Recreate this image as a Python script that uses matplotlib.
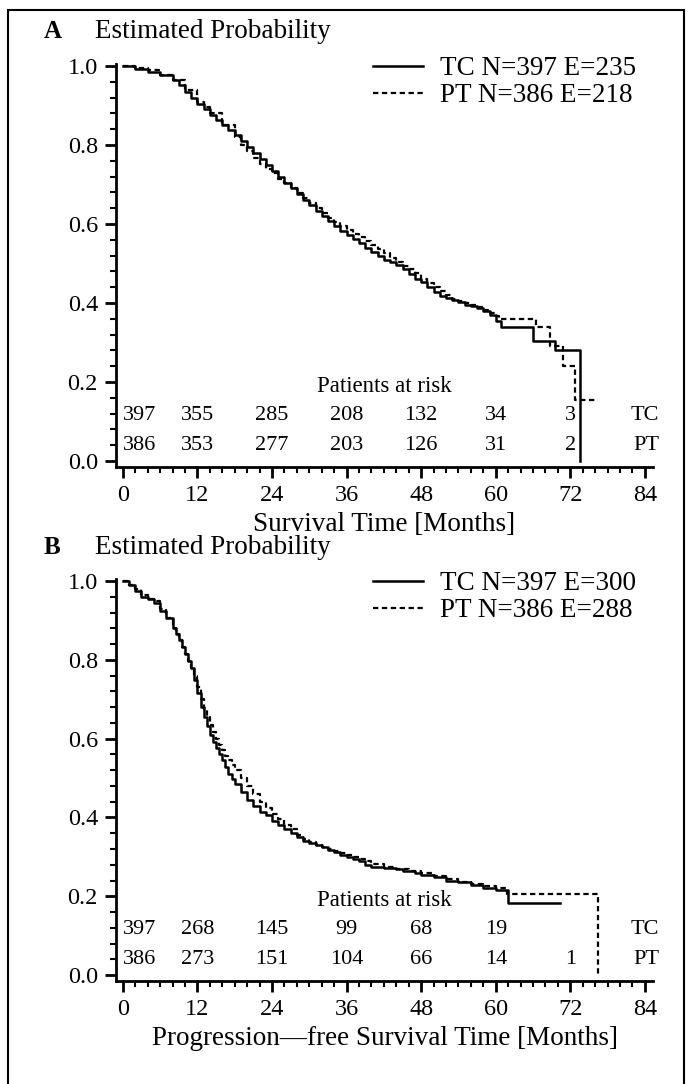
import matplotlib
matplotlib.use("Agg")
import matplotlib.pyplot as plt
from matplotlib.patches import Rectangle
from matplotlib.ticker import MultipleLocator

plt.rcParams['font.family'] = ['Liberation Serif', 'DejaVu Serif']

# --- data ---
# Panel A: overall survival (months, estimated probability)
osTcTime = [0, 2, 4, 6, 8, 9, 10, 11, 12, 13, 14, 15, 16, 17, 18, 19, 20, 21, 22, 23, 24, 25, 26, 27, 28, 29, 30,
            31, 32, 33, 34, 35, 36, 37, 38, 39, 40, 41, 42, 43, 44, 45, 46, 47, 48, 49, 50, 51, 52, 53, 54, 55, 56,
            57, 58, 59, 60, 60.8, 66, 69.5, 73.5]
osTcSurv = [1.0, 0.993, 0.985, 0.978, 0.965, 0.952, 0.935, 0.918, 0.905, 0.89, 0.875, 0.862, 0.85, 0.838, 0.826,
            0.81, 0.795, 0.78, 0.765, 0.75, 0.735, 0.72, 0.705, 0.69, 0.676, 0.662, 0.648, 0.634, 0.62, 0.607, 0.595,
            0.583, 0.572, 0.562, 0.551, 0.54, 0.53, 0.52, 0.51, 0.503, 0.497, 0.485, 0.473, 0.462, 0.452, 0.44, 0.428,
            0.418, 0.412, 0.408, 0.402, 0.396, 0.392, 0.388, 0.38, 0.37, 0.355, 0.34, 0.305, 0.28, 0.0]
osPtTime = [0, 2, 4, 6, 8, 10, 12, 13, 14, 16, 18, 19, 20, 21, 22, 23, 24, 25, 26, 27, 28, 29, 30, 31, 32, 33, 34,
            35, 36, 37, 38, 39, 40, 41, 42, 43, 44, 45, 46, 47, 48, 49, 50, 51, 52, 53, 54, 55, 56, 57, 58, 59, 60,
            60.5, 66.5, 68.8, 70.8, 72.8, 76.5]
osPtSurv = [1.0, 0.995, 0.99, 0.978, 0.965, 0.94, 0.91, 0.895, 0.88, 0.85, 0.82, 0.8, 0.785, 0.768, 0.753, 0.74,
            0.728, 0.715, 0.705, 0.692, 0.678, 0.665, 0.652, 0.64, 0.627, 0.615, 0.605, 0.595, 0.585, 0.575, 0.566,
            0.556, 0.546, 0.537, 0.527, 0.515, 0.505, 0.495, 0.485, 0.475, 0.462, 0.45, 0.44, 0.43, 0.42, 0.41,
            0.405, 0.4, 0.395, 0.39, 0.383, 0.375, 0.368, 0.36, 0.34, 0.29, 0.24, 0.155, 0.155]

# Panel B: progression-free survival
pfsTcTime = [0, 1, 2, 3, 4, 5, 6, 7, 8, 8.5, 9, 9.5, 10, 10.5, 11, 11.5, 12, 12.5, 13, 13.5, 14, 14.5, 15, 15.5,
             16, 16.5, 17, 17.5, 18, 19, 20, 21, 22, 23, 24, 25, 26, 27, 28, 29, 30, 31, 32, 33, 34, 35, 36, 37,
             38, 39, 40, 42, 44, 45, 47, 48, 50, 52, 54, 56, 58, 60, 62, 70.4]
pfsTcSurv = [1.0, 0.99, 0.975, 0.96, 0.955, 0.945, 0.925, 0.905, 0.88, 0.865, 0.85, 0.833, 0.815, 0.798, 0.78, 0.75,
             0.715, 0.68, 0.655, 0.632, 0.61, 0.592, 0.575, 0.56, 0.545, 0.527, 0.51, 0.497, 0.485, 0.465, 0.445,
             0.43, 0.415, 0.405, 0.39, 0.38, 0.37, 0.36, 0.35, 0.34, 0.335, 0.33, 0.325, 0.318, 0.312, 0.305, 0.3,
             0.295, 0.29, 0.28, 0.275, 0.272, 0.27, 0.265, 0.26, 0.255, 0.25, 0.24, 0.235, 0.228, 0.222, 0.217,
             0.183, 0.183]
pfsPtTime = [0, 1, 2, 3, 4, 5, 6, 7, 8, 8.5, 9, 9.5, 10, 10.5, 11, 11.5, 12, 12.5, 13, 13.5, 14, 14.5, 15, 15.5,
             16, 16.5, 17, 17.5, 18, 19, 20, 21, 22, 23, 24, 25, 26, 27, 28, 29, 30, 31, 32, 33, 34, 35, 36, 37,
             38, 39, 40, 42, 44, 46, 48, 50, 52, 54, 56, 58, 60, 61.8, 76.5]
pfsPtSurv = [1.0, 0.99, 0.98, 0.965, 0.955, 0.95, 0.93, 0.905, 0.88, 0.865, 0.85, 0.833, 0.815, 0.798, 0.78, 0.76,
             0.73, 0.7, 0.675, 0.655, 0.635, 0.617, 0.6, 0.585, 0.57, 0.557, 0.545, 0.532, 0.52, 0.5, 0.48, 0.46,
             0.44, 0.425, 0.41, 0.395, 0.38, 0.37, 0.355, 0.345, 0.337, 0.33, 0.325, 0.32, 0.315, 0.31, 0.305, 0.3,
             0.295, 0.29, 0.282, 0.275, 0.27, 0.265, 0.26, 0.252, 0.245, 0.237, 0.23, 0.225, 0.22, 0.205, 0.0]

riskTimes = [0, 12, 24, 36, 48, 60, 72]
osRiskTc = ["397", "355", "285", "208", "132", "34", "3"]
osRiskPt = ["386", "353", "277", "203", "126", "31", "2"]
pfsRiskTc = ["397", "268", "145", "99", "68", "19", ""]
pfsRiskPt = ["386", "273", "151", "104", "66", "14", "1"]

osLabels = ["TC N=397 E=235", "PT N=386 E=218"]
pfsLabels = ["TC N=397 E=300", "PT N=386 E=288"]

W, H = 689, 1084
fig = plt.figure(figsize=(W / 100, H / 100), dpi=100)
# frame round the figure (bottom edge runs off the picture)
fig.patches.append(Rectangle((8 / W, -10 / H), 676 / W, 1084 / H, transform=fig.transFigure,
                             fill=False, lw=1.5, edgecolor='black'))

dash = (0, (2.4, 1.6))


def panel(rect, letter, tcT, tcS, ptT, ptS, riskTc, riskPt, labels, xlabel, titleY):
    ax = fig.add_axes(rect)
    ax.plot(tcT, tcS, drawstyle='steps-post', color='black', lw=1.8, label=labels[0])
    ax.plot(ptT, ptS, drawstyle='steps-post', color='black', lw=1.6, linestyle=dash, label=labels[1])
    ax.set_xlim(-1.1, 85.3)
    ax.set_ylim(-0.015, 1.005)
    for s in ['top', 'right']:
        ax.spines[s].set_visible(False)
    for s in ['left', 'bottom']:
        ax.spines[s].set_linewidth(2)
    ax.xaxis.set_major_locator(MultipleLocator(12))
    ax.xaxis.set_minor_locator(MultipleLocator(2))
    ax.yaxis.set_major_locator(MultipleLocator(0.2))
    ax.yaxis.set_minor_locator(MultipleLocator(0.04))
    ax.tick_params(which='major', direction='out', length=8, width=2, labelsize=17.5, pad=5)
    ax.tick_params(which='minor', direction='out', length=4, width=1.5)
    ax.set_xlabel(xlabel, fontsize=19.5, labelpad=4)

    ax.legend(loc='upper left', bbox_to_anchor=(40.3, 1.025), bbox_transform=ax.transData,
              frameon=False, fontsize=19.5, borderpad=0, borderaxespad=0,
              handlelength=1.85, handletextpad=0.6, labelspacing=0.08)

    ax.text(42, 0.188, "Patients at risk", ha='center', va='center', fontsize=16.5)
    for i, t in enumerate(riskTimes):
        ha = 'left' if t == 0 else 'center'
        ax.text(t, 0.115, riskTc[i], ha=ha, va='center', fontsize=16)
        ax.text(t, 0.04, riskPt[i], ha=ha, va='center', fontsize=16)
    ax.text(86.3, 0.115, "TC", ha='right', va='center', fontsize=16)
    ax.text(86.3, 0.04, "PT", ha='right', va='center', fontsize=16)

    fig.text(44 / W, 1 - titleY / H, letter, fontsize=18, fontweight='bold', va='center')
    fig.text(95 / W, 1 - titleY / H, "Estimated Probability", fontsize=19.5, va='center')
    return ax


panel([116 / W, 1 - 467 / H, 537 / W, 403 / H], "A", osTcTime, osTcSurv, osPtTime, osPtSurv,
      osRiskTc, osRiskPt, osLabels, "Survival Time [Months]", 32)
panel([116 / W, 1 - 981 / H, 537 / W, 402 / H], "B", pfsTcTime, pfsTcSurv, pfsPtTime, pfsPtSurv,
      pfsRiskTc, pfsRiskPt, pfsLabels, "Progression\u2014free Survival Time [Months]", 548)

fig.savefig("out.png", dpi=100)
